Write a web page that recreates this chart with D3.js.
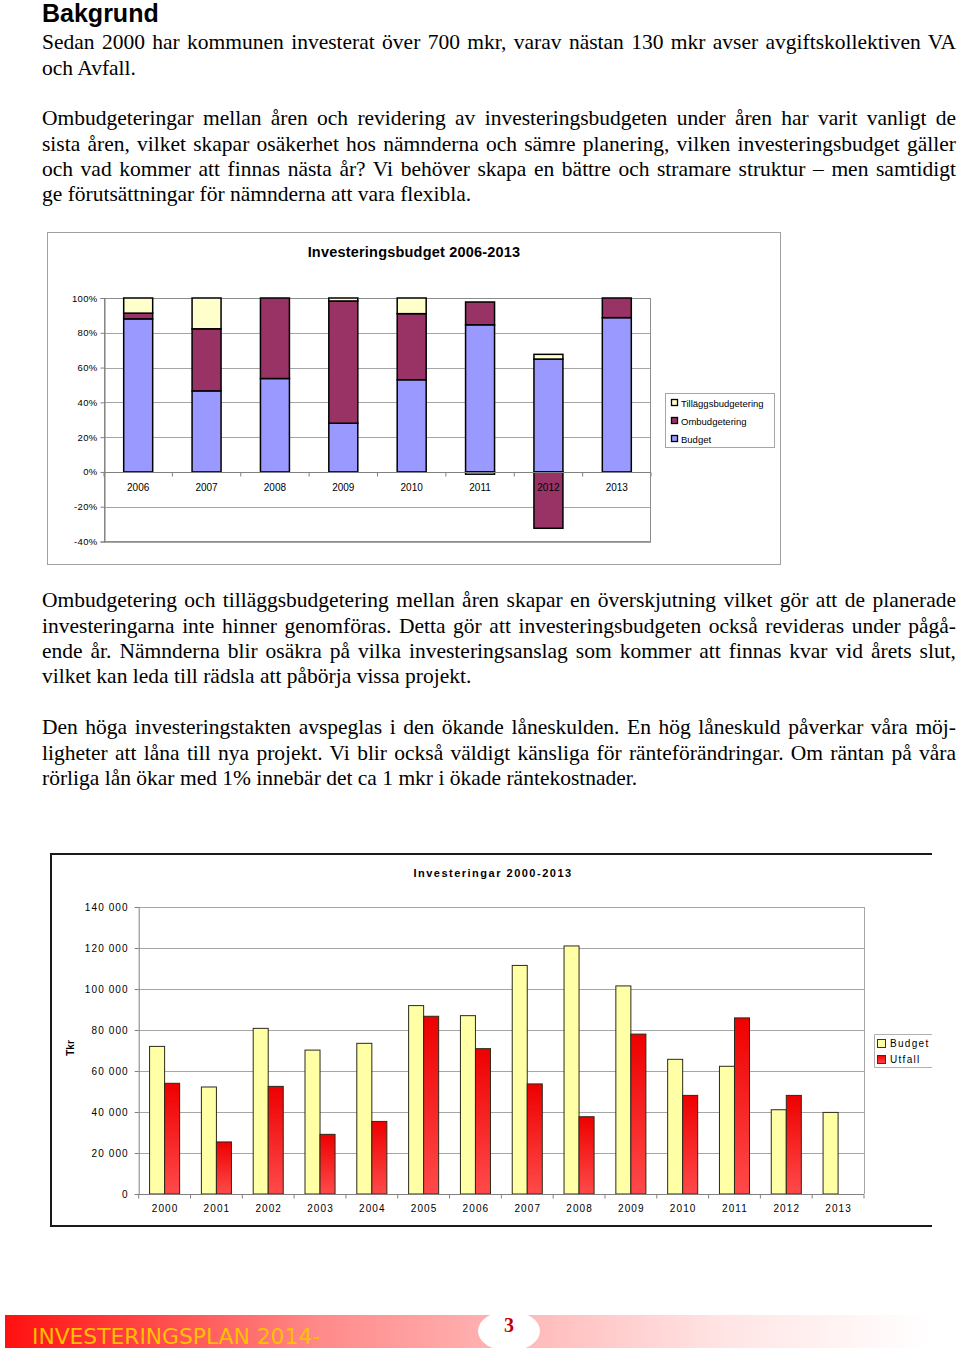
<!DOCTYPE html>
<html>
<head>
<meta charset="utf-8">
<script src="https://cdn.jsdelivr.net/npm/d3@7"></script>
<style>
  body { margin: 0; background: #fff; }
  #page { position: relative; width: 960px; height: 1348px; overflow: hidden; }
  #page svg { position: absolute; left: 0; top: 0; }
  .heading { position: absolute; left: 42px; top: 1px; font: bold 25px "Liberation Sans", Arial, sans-serif; line-height: 25px; color: #000; }
  .para { position: absolute; left: 42px; width: 914px; font: 21.5px "Liberation Serif", "Times New Roman", serif; line-height: 25.4px; color: #000; }
  .para div { text-align: justify; text-align-last: justify; height: 25.4px; }
  .para div.last { text-align-last: left; }
  .sans { font-family: "Liberation Sans", Arial, sans-serif; }
</style>
</head>
<body>
<div id="page"></div>
<script>
// ---- text ----
const p1 = [
  'Sedan 2000 har kommunen investerat över 700 mkr, varav nästan 130 mkr avser avgiftskollektiven VA',
  'och Avfall.'
];
const p2 = [
  'Ombudgeteringar mellan åren och revidering av investeringsbudgeten under åren har varit vanligt de',
  'sista åren, vilket skapar osäkerhet hos nämnderna och sämre planering, vilken investeringsbudget gäller',
  'och vad kommer att finnas nästa år? Vi behöver skapa en bättre och stramare struktur – men samtidigt',
  'ge förutsättningar för nämnderna att vara flexibla.'
];
const p3 = [
  'Ombudgetering och tilläggsbudgetering mellan åren skapar en överskjutning vilket gör att de planerade',
  'investeringarna inte hinner genomföras. Detta gör att investeringsbudgeten också revideras under pågå-',
  'ende år. Nämnderna blir osäkra på vilka investeringsanslag som kommer att finnas kvar vid årets slut,',
  'vilket kan leda till rädsla att påbörja vissa projekt.'
];
const p4 = [
  'Den höga investeringstakten avspeglas i den ökande låneskulden. En hög låneskuld påverkar våra möj-',
  'ligheter att låna till nya projekt. Vi blir också väldigt känsliga för ränteförändringar. Om räntan på våra',
  'rörliga lån ökar med 1% innebär det ca 1 mkr i ökade räntekostnader.'
];

// ---- chart 1: Investeringsbudget 2006-2013 (share of total, %) ----
const years1 = ['2006', '2007', '2008', '2009', '2010', '2011', '2012', '2013'];
const budgetShare = [88.0, 46.6, 53.7, 28.0, 53.0, 84.6, 64.9, 88.7];
const ombudgetShare = [3.3, 35.7, 46.3, 70.3, 38.0, 13.1, -32.4, 11.3];
const tillaggShare = [8.7, 17.7, 0, 1.7, 9.0, -1.3, 2.7, 0];
const pctTicks = [-40, -20, 0, 20, 40, 60, 80, 100];

// ---- chart 2: Investeringar 2000-2013 (tkr) ----
const years2 = ['2000', '2001', '2002', '2003', '2004', '2005', '2006',
                '2007', '2008', '2009', '2010', '2011', '2012', '2013'];
const budget2 = [72000, 52200, 80800, 70200, 73500, 91900, 87000,
                 111500, 121000, 101500, 65700, 62300, 41100, 39800];
const utfall2 = [54000, 25400, 52500, 29100, 35400, 86700, 70900,
                 53700, 37700, 78000, 48100, 85900, 48100, null];
const tkrTicks = [0, 20000, 40000, 60000, 80000, 100000, 120000, 140000];

const page = d3.select('#page');

// svg underneath the text
const svg = page.append('svg').attr('width', 960).attr('height', 1348);
const defs = svg.append('defs');

page.append('div').attr('class', 'heading').text('Bakgrund');

const paras = [
  { lines: p1, top: 43 - 12.7 },
  { lines: p2, top: 119 - 12.7 },
  { lines: p3, top: 601 - 12.7 },
  { lines: p4, top: 728 - 12.7 }
];
paras.forEach(p => {
  const box = page.append('div').attr('class', 'para').style('top', p.top + 'px');
  box.selectAll('div')
    .data(p.lines)
    .join('div')
    .attr('class', (d, i) => i === p.lines.length - 1 ? 'last' : null)
    .text(d => d);
});

// ================= chart 1 =================
const g1 = svg.append('g').attr('class', 'sans');

g1.append('rect')
  .attr('x', 47.5).attr('y', 232.5).attr('width', 733).attr('height', 332)
  .attr('fill', '#fff').attr('stroke', '#a0a0a0');

g1.append('text')
  .attr('x', 414).attr('y', 257)
  .attr('text-anchor', 'middle')
  .style('font-size', '14.5px').style('font-weight', 'bold').style('letter-spacing', '0.2px')
  .text('Investeringsbudget 2006-2013');

const x1 = d3.scaleBand().domain(years1).range([104, 651])
  .paddingInner(0.576).paddingOuter(0.288);
const y1 = d3.scaleLinear().domain([-40, 100]).range([541.5, 298]);

// gridlines
g1.append('g')
  .selectAll('line')
  .data(pctTicks)
  .join('line')
  .attr('x1', 104).attr('x2', 651)
  .attr('y1', d => Math.round(y1(d)) + 0.5).attr('y2', d => Math.round(y1(d)) + 0.5)
  .attr('stroke', '#a6a6a6');

g1.append('rect')
  .attr('x', 104.5).attr('y', 298.5).attr('width', 546).attr('height', 243)
  .attr('fill', 'none').attr('stroke', '#8c8c8c');

const stackRows = years1.map((y, i) => ({
  year: y, budget: budgetShare[i], om: ombudgetShare[i], till: tillaggShare[i]
}));
const series1 = d3.stack()
  .keys(['budget', 'om', 'till'])
  .offset(d3.stackOffsetDiverging)(stackRows);
const color1 = { budget: '#9999ff', om: '#993366', till: '#ffffcc' };

g1.append('g')
  .selectAll('g')
  .data(series1)
  .join('g')
  .attr('fill', s => color1[s.key])
  .selectAll('rect')
  .data(s => s.filter(d => d[1] !== d[0]))
  .join('rect')
  .attr('x', d => x1(d.data.year))
  .attr('width', x1.bandwidth())
  .attr('y', d => y1(d[1]))
  .attr('height', d => y1(d[0]) - y1(d[1]))
  .attr('stroke', '#000').attr('stroke-width', 1.5);

// y axis
const yAxis1 = g1.append('g')
  .attr('transform', 'translate(104.5,0)')
  .call(d3.axisLeft(y1).tickValues(pctTicks).tickFormat(d => d + '%').tickSize(4).tickPadding(3));
yAxis1.select('.domain').attr('stroke', '#808080');
yAxis1.selectAll('.tick line').attr('stroke', '#808080');
yAxis1.selectAll('text').style('font-size', '9.5px').style('letter-spacing', '0.3px')
  .attr('font-family', null);

// x axis on the 0% line, ticks between categories
const zeroY = Math.round(y1(0)) + 0.5;
g1.append('line')
  .attr('x1', 104).attr('x2', 651).attr('y1', zeroY).attr('y2', zeroY)
  .attr('stroke', '#808080');
const step1 = x1.step();
g1.append('g')
  .selectAll('line')
  .data(years1.concat(['end']))
  .join('line')
  .attr('x1', (d, i) => 104 + i * step1).attr('x2', (d, i) => 104 + i * step1)
  .attr('y1', zeroY).attr('y2', zeroY + 4)
  .attr('stroke', '#808080');
g1.append('g')
  .selectAll('text')
  .data(years1)
  .join('text')
  .attr('x', d => x1(d) + x1.bandwidth() / 2)
  .attr('y', 491)
  .attr('text-anchor', 'middle')
  .style('font-size', '10px')
  .text(d => d);

// legend
const leg1 = g1.append('g');
leg1.append('rect')
  .attr('x', 665.5).attr('y', 393.5).attr('width', 109).attr('height', 54)
  .attr('fill', '#fff').attr('stroke', '#a6a6a6');
const legItems1 = [
  { key: 'till', label: 'Tilläggsbudgetering', y: 403 },
  { key: 'om', label: 'Ombudgetering', y: 421 },
  { key: 'budget', label: 'Budget', y: 439 }
];
leg1.selectAll('rect.sw')
  .data(legItems1)
  .join('rect')
  .attr('class', 'sw')
  .attr('x', 671.5).attr('y', d => d.y - 3.5).attr('width', 6).attr('height', 6)
  .attr('fill', d => color1[d.key]).attr('stroke', '#000').attr('stroke-width', 1.3);
leg1.selectAll('text')
  .data(legItems1)
  .join('text')
  .attr('x', 681).attr('y', d => d.y + 3.5)
  .style('font-size', '9.5px')
  .text(d => d.label);

// ================= chart 2 =================
const g2 = svg.append('g').attr('class', 'sans');

g2.append('path')
  .attr('d', 'M932,854 H51 V1226 H932')
  .attr('fill', 'none').attr('stroke', '#1a1a1a').attr('stroke-width', 2);

g2.append('text')
  .attr('x', 493).attr('y', 877)
  .attr('text-anchor', 'middle')
  .style('font-size', '11px').style('font-weight', 'bold').style('letter-spacing', '1.5px')
  .text('Investeringar 2000-2013');

const x2 = d3.scaleBand().domain(years2).range([138.7, 864])
  .paddingInner(0.42).paddingOuter(0.21);
const x2s = d3.scaleBand().domain(['budget', 'utfall']).range([0, x2.bandwidth()]);
const y2 = d3.scaleLinear().domain([0, 140000]).range([1194, 907]);

g2.append('g')
  .selectAll('line')
  .data(tkrTicks)
  .join('line')
  .attr('x1', 138.7).attr('x2', 864)
  .attr('y1', d => Math.round(y2(d)) + 0.5).attr('y2', d => Math.round(y2(d)) + 0.5)
  .attr('stroke', '#a6a6a6');
g2.append('line')
  .attr('x1', 864.5).attr('x2', 864.5).attr('y1', 907).attr('y2', 1194)
  .attr('stroke', '#a6a6a6');

const grad = defs.append('linearGradient')
  .attr('id', 'utfallGrad').attr('x1', 0).attr('y1', 0).attr('x2', 0).attr('y2', 1);
grad.append('stop').attr('offset', 0).attr('stop-color', '#ee0000');
grad.append('stop').attr('offset', 1).attr('stop-color', '#ff4a4a');

const rows2 = years2.map((y, i) => ({ year: y, budget: budget2[i], utfall: utfall2[i] }));
const fill2 = { budget: '#ffffa6', utfall: 'url(#utfallGrad)' };

g2.append('g')
  .selectAll('g')
  .data(rows2)
  .join('g')
  .attr('transform', d => `translate(${x2(d.year)},0)`)
  .selectAll('rect')
  .data(d => ['budget', 'utfall'].filter(k => d[k] != null).map(k => ({ key: k, value: d[k] })))
  .join('rect')
  .attr('x', d => x2s(d.key))
  .attr('width', x2s.bandwidth())
  .attr('y', d => y2(d.value))
  .attr('height', d => y2(0) - y2(d.value))
  .attr('fill', d => fill2[d.key])
  .attr('stroke', '#2a2a1a').attr('stroke-width', 1);

const fmt = d3.formatLocale({ decimal: ',', thousands: ' ', grouping: [3], currency: ['', ''] }).format(',');
const yAxis2 = g2.append('g')
  .attr('transform', 'translate(138.7,0)')
  .call(d3.axisLeft(y2).tickValues(tkrTicks).tickFormat(fmt).tickSize(4).tickPadding(6));
yAxis2.select('.domain').attr('stroke', '#808080');
yAxis2.selectAll('.tick line').attr('stroke', '#808080');
yAxis2.selectAll('text').style('font-size', '10px').style('letter-spacing', '1.1px')
  .attr('font-family', null);

const zero2 = Math.round(y2(0)) + 0.5;
g2.append('line')
  .attr('x1', 138.7).attr('x2', 864).attr('y1', zero2).attr('y2', zero2)
  .attr('stroke', '#808080');
const step2 = x2.step();
g2.append('g')
  .selectAll('line')
  .data(years2.concat(['end']))
  .join('line')
  .attr('x1', (d, i) => 138.7 + i * step2).attr('x2', (d, i) => 138.7 + i * step2)
  .attr('y1', zero2).attr('y2', zero2 + 4)
  .attr('stroke', '#808080');
g2.append('g')
  .selectAll('text')
  .data(years2)
  .join('text')
  .attr('x', d => x2(d) + x2.bandwidth() / 2 + 0.5)
  .attr('y', 1212)
  .attr('text-anchor', 'middle')
  .style('font-size', '10px').style('letter-spacing', '1.1px')
  .text(d => d);

g2.append('text')
  .attr('transform', 'translate(74,1048) rotate(-90)')
  .attr('text-anchor', 'middle')
  .style('font-size', '10px').style('font-weight', 'bold')
  .text('Tkr');

// legend (clipped on the right like the source)
g2.append('path')
  .attr('d', 'M932,1034.5 H874.5 V1067.5 H932')
  .attr('fill', '#fff').attr('stroke', '#b0b0b0');
const legItems2 = [
  { key: 'budget', label: 'Budget', y: 1043 },
  { key: 'utfall', label: 'Utfall', y: 1059 }
];
g2.selectAll('rect.sw2')
  .data(legItems2)
  .join('rect')
  .attr('class', 'sw2')
  .attr('x', 877.5).attr('y', d => d.y - 3.5).attr('width', 8).attr('height', 8)
  .attr('fill', d => fill2[d.key]).attr('stroke', '#333');
g2.selectAll('text.lt2')
  .data(legItems2)
  .join('text')
  .attr('class', 'lt2')
  .attr('x', 890).attr('y', d => d.y + 3.5)
  .style('font-size', '10px').style('letter-spacing', '1.3px')
  .text(d => d.label);

// ================= footer =================
const fgrad = defs.append('linearGradient')
  .attr('id', 'footGrad').attr('x1', 0).attr('y1', 0).attr('x2', 1).attr('y2', 0);
[[0, '#ff1010'], [0.33, '#ff8a8a'], [0.52, '#ffb4b4'], [0.75, '#ffe4e4'], [0.97, '#ffffff']]
  .forEach(([o, c]) => fgrad.append('stop').attr('offset', o).attr('stop-color', c));

svg.append('rect')
  .attr('x', 5).attr('y', 1315).attr('width', 955).attr('height', 33)
  .attr('fill', 'url(#footGrad)');
svg.append('ellipse')
  .attr('cx', 509).attr('cy', 1331).attr('rx', 31).attr('ry', 20)
  .attr('fill', '#fff');
svg.append('text')
  .attr('x', 509).attr('y', 1332)
  .attr('text-anchor', 'middle')
  .style('font', 'bold 20px "Liberation Serif", serif')
  .attr('fill', '#c00000')
  .text('3');
svg.append('text')
  .attr('x', 32).attr('y', 1344)
  .attr('textLength', 288).attr('lengthAdjust', 'spacingAndGlyphs')
  .style('font', '21px "DejaVu Sans Condensed", "DejaVu Sans", sans-serif')
  .attr('fill', '#ffc000')
  .text('INVESTERINGSPLAN 2014-');
</script>
</body>
</html>
